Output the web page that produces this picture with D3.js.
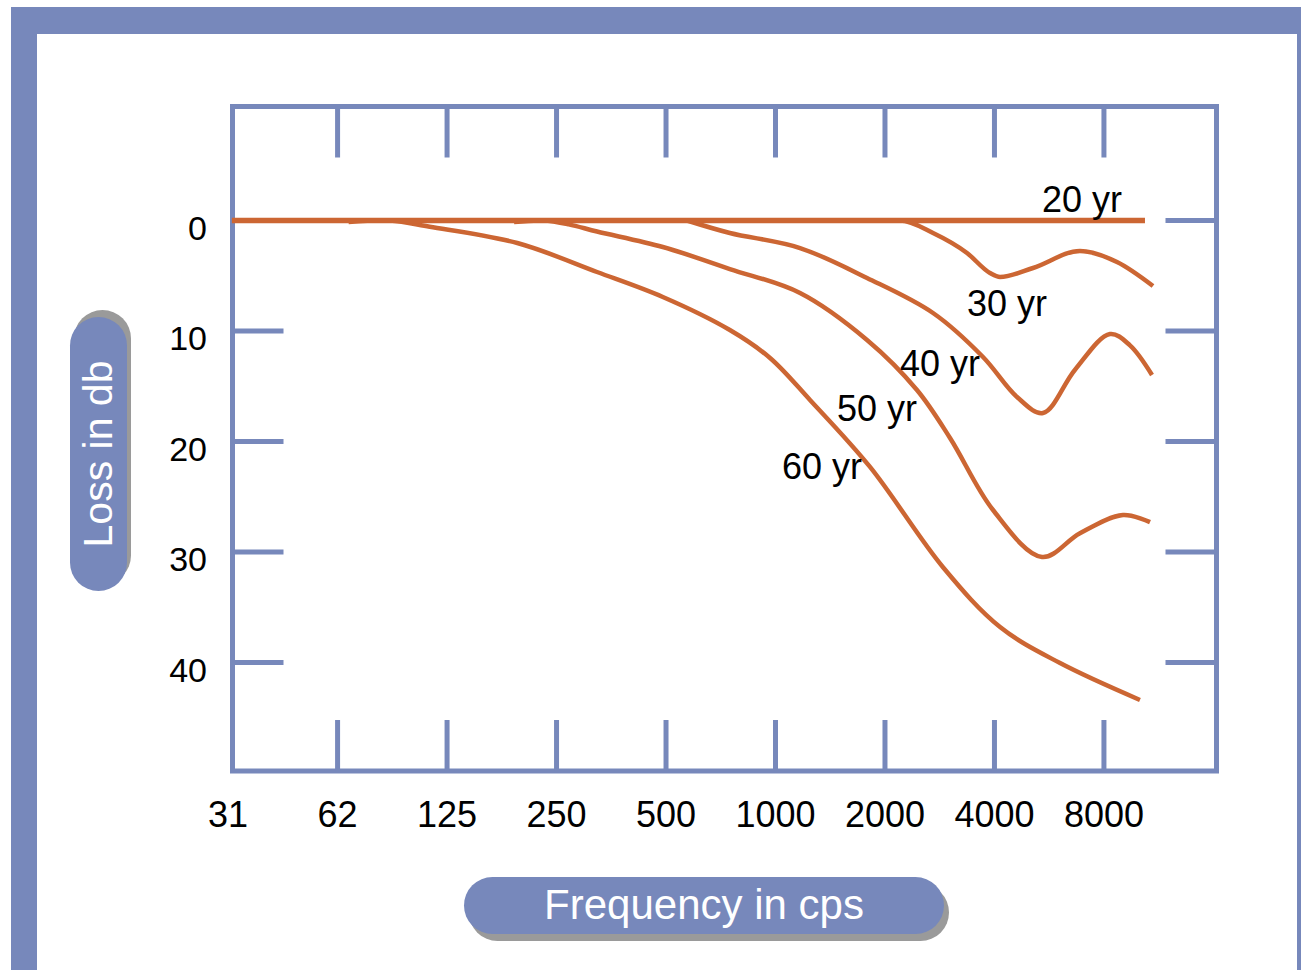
<!DOCTYPE html>
<html>
<head>
<meta charset="utf-8">
<script src="https://cdn.jsdelivr.net/npm/d3@7"></script>
<style>
  html, body { margin: 0; padding: 0; background: #ffffff; }
  svg { display: block; }
  text { font-family: "Liberation Sans", Arial, Helvetica, sans-serif; }
</style>
</head>
<body>
<script>
// ---------- data ----------
const xTickValues = [31.25, 62.5, 125, 250, 500, 1000, 2000, 4000, 8000];
const xTickLabels = ["31", "62", "125", "250", "500", "1000", "2000", "4000", "8000"];
const yTickValues = [0, 10, 20, 30, 40];
const yTickLabels = ["0", "10", "20", "30", "40"];

const seriesNames = ["20 yr", "30 yr", "40 yr", "50 yr", "60 yr"];

// [frequency (cps), loss (db)]
const loss20 = [[32, 0], [10374, 0]];
const loss30 = [[851, 0], [2199, 0], [2711, 1.13], [3362, 2.94], [3888, 4.75], [4144, 5.11],
                [5106, 4.3], [6873, 2.76], [8688, 3.76], [10913, 5.93]];
const loss40 = [[571, 0], [749, 1.13], [1168, 2.49], [1785, 5.2], [2711, 8.37], [3720, 12.35],
                [4614, 15.97], [5438, 17.42], [6662, 13.5], [8311, 10.27], [9434, 11.3], [10846, 13.98]];
const loss50 = [[191, 0.14], [230, 0], [270, 0.35], [323, 1.0], [490, 2.4], [749, 4.39], [1168, 6.56],
                [1785, 10.81], [2449, 15.34], [3019, 19.68], [3964, 26.2], [5404, 30.45],
                [6873, 28.3], [9025, 26.65], [10710, 27.3]];
const loss60 = [[67, 0.14], [87, 0], [112, 0.56], [195, 2.04], [323, 4.66], [490, 6.92],
                [749, 9.91], [966, 12.44], [1244, 16.24], [1819, 22.3], [2888, 31.38],
                [4144, 36.79], [6059, 40.05], [10049, 43.39]];

// label anchors [frequency, loss]
const labelAnchors = [[5404, -0.77], [3362, 8.64], [2199, 14.07], [1476, 18.14], [1042, 23.39]];

const xTitle = "Frequency in cps";
const yTitle = "Loss in db";

// ---------- styles ----------
const BLUE = "#7788bb";
const ORANGE = "#cc6633";
const SHADOW = "#9a9a9a";

const W = 1301, H = 970;
const svg = d3.select("body").append("svg").attr("width", W).attr("height", H);

// outer frame
svg.append("rect").attr("x", 11).attr("y", 7).attr("width", W + 40).attr("height", H + 40).attr("fill", BLUE);
svg.append("rect").attr("x", 37).attr("y", 34).attr("width", 1260).attr("height", H + 40).attr("fill", "#ffffff");

// scales
const x = d3.scaleLog().base(2).domain([31.25, 16000]).range([228.1, 228.1 + 9 * 109.48]);
const y = d3.scaleLinear().domain([0, 40]).range([220.5, 662.5]);

// plot box
const box = { left: 232.5, top: 106.5, right: 1216.5, bottom: 771 };
svg.append("rect")
  .attr("x", box.left).attr("y", box.top)
  .attr("width", box.right - box.left).attr("height", box.bottom - box.top)
  .attr("fill", "none").attr("stroke", BLUE).attr("stroke-width", 5);

const tickLen = 51;
const ticksG = svg.append("g").attr("stroke", BLUE).attr("stroke-width", 5);
xTickValues.slice(1).forEach(v => {
  ticksG.append("line").attr("x1", x(v)).attr("x2", x(v)).attr("y1", box.top).attr("y2", box.top + tickLen);
  ticksG.append("line").attr("x1", x(v)).attr("x2", x(v)).attr("y1", box.bottom).attr("y2", box.bottom - tickLen);
});
yTickValues.forEach(v => {
  ticksG.append("line").attr("x1", box.left).attr("x2", box.left + tickLen).attr("y1", y(v)).attr("y2", y(v));
  ticksG.append("line").attr("x1", box.right).attr("x2", box.right - tickLen).attr("y1", y(v)).attr("y2", y(v));
});

// tick labels
svg.append("g").selectAll("text").data(xTickValues).join("text")
  .attr("x", d => x(d)).attr("y", 827)
  .attr("text-anchor", "middle").attr("font-size", 36).attr("fill", "#000")
  .text((d, i) => xTickLabels[i]);

svg.append("g").selectAll("text").data(yTickValues).join("text")
  .attr("x", 207).attr("y", d => y(d) + 19)
  .attr("text-anchor", "end").attr("font-size", 34).attr("fill", "#000")
  .text((d, i) => yTickLabels[i]);

// curves
const smooth = d3.line().x(d => x(d[0])).y(d => y(d[1])).curve(d3.curveCatmullRom.alpha(0.5));
const mono = d3.line().x(d => x(d[0])).y(d => y(d[1])).curve(d3.curveMonotoneX);
const curveG = svg.append("g").attr("fill", "none").attr("stroke", ORANGE);
[loss60, loss50, loss40].forEach(s => {
  curveG.append("path").datum(s).attr("d", smooth).attr("stroke-width", 4.5);
});
curveG.append("path").datum(loss30).attr("d", mono).attr("stroke-width", 4.5);
curveG.append("path").datum(loss20).attr("d", mono).attr("stroke-width", 5.5);

// series labels
svg.append("g").selectAll("text").data(labelAnchors).join("text")
  .attr("x", d => x(d[0])).attr("y", d => y(d[1]))
  .attr("font-size", 36).attr("fill", "#000")
  .text((d, i) => seriesNames[i]);

// axis title pills
function pill(g, w, h, sdx, sdy, label, fs) {
  const r = h / 2;
  g.append("rect").attr("x", -w / 2 + sdx).attr("y", -h / 2 + sdy).attr("width", w).attr("height", h)
    .attr("rx", r).attr("ry", r).attr("fill", SHADOW);
  g.append("rect").attr("x", -w / 2).attr("y", -h / 2).attr("width", w).attr("height", h)
    .attr("rx", r).attr("ry", r).attr("fill", BLUE);
  g.append("text").attr("x", 0).attr("y", fs * 0.33).attr("text-anchor", "middle")
    .attr("font-size", fs).attr("fill", "#ffffff").text(label);
}
pill(svg.append("g").attr("transform", "translate(704,905.5)"), 480, 57, 5, 7, xTitle, 42);
pill(svg.append("g").attr("transform", "translate(98.5,454) rotate(-90)"), 274, 57, 7, 4, yTitle, 41);
</script>
</body>
</html>
